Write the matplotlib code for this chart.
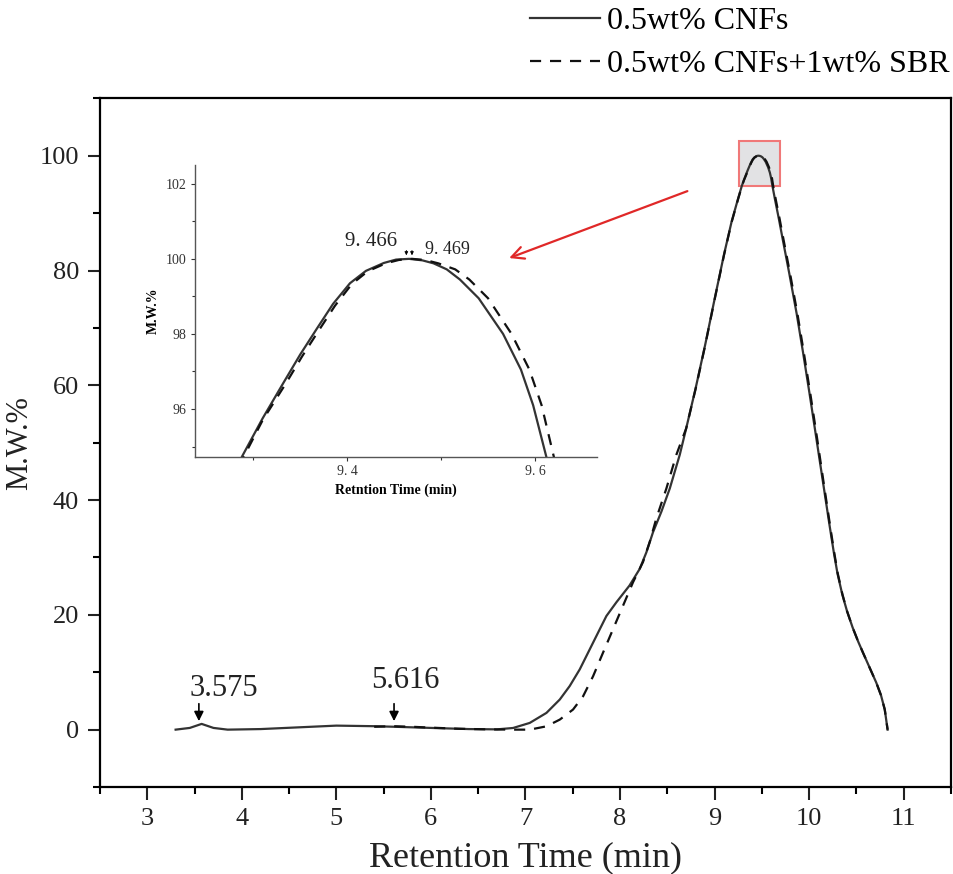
import matplotlib
matplotlib.use("Agg")
import matplotlib.pyplot as plt
from matplotlib.patches import Rectangle
from matplotlib.ticker import MultipleLocator

# retention time (min) / M.W.%
cnf_time = [3.30, 3.45, 3.575, 3.70, 3.85, 4.2, 4.6, 5.0, 5.4, 5.616, 6.0, 6.4, 6.7, 6.869,
            7.045, 7.222, 7.363, 7.468, 7.574, 7.68, 7.786, 7.856, 7.962, 8.10, 8.208, 8.279,
            8.349, 8.438, 8.526, 8.632, 8.70, 8.80, 8.90, 9.00, 9.10, 9.18, 9.25,
            9.288, 9.31, 9.332, 9.35, 9.368, 9.385, 9.403, 9.42, 9.439, 9.452,
            9.466, 9.48, 9.492, 9.506, 9.52, 9.54, 9.566, 9.585, 9.598, 9.612, 9.64, 9.68,
            9.72, 9.79, 9.868, 9.935, 10.005, 10.076, 10.146, 10.217, 10.26, 10.30, 10.35,
            10.40, 10.46, 10.52, 10.57, 10.64, 10.71, 10.76, 10.80, 10.83]
cnf_mw = [0.0, 0.3, 1.0, 0.3, 0.0, 0.1, 0.4, 0.7, 0.6, 0.5, 0.3, 0.1, 0.05, 0.29,
          1.17, 2.92, 5.25, 7.6, 10.5, 14.0, 17.5, 19.8, 22.2, 25.1, 28.0, 30.9,
          34.4, 38.0, 42.0, 47.9, 52.5, 59.5, 67.0, 75.0, 82.8, 88.5, 92.6,
          94.73, 95.75, 96.69, 97.45, 98.15, 98.80, 99.35, 99.68, 99.89, 99.98,
          100.0, 99.96, 99.88, 99.72, 99.45, 98.95, 98.0, 97.05, 96.1, 94.73, 92.3, 89.0,
          85.5, 79.5, 72.5, 65.8, 58.5, 50.8, 43.2, 35.5, 31.0, 27.2, 23.6,
          20.7, 17.8, 15.3, 13.4, 10.8, 8.2, 6.0, 3.5, 0.0]

sbr_time = [5.40, 5.6, 5.8, 6.0, 6.3, 6.6, 6.87, 7.045, 7.222, 7.363, 7.503, 7.609, 7.715,
            7.82, 7.926, 8.032, 8.138, 8.243, 8.314, 8.384, 8.49, 8.596, 8.70, 8.80, 8.90,
            9.00, 9.10, 9.18, 9.25, 9.29, 9.31, 9.335, 9.352, 9.37, 9.387, 9.405, 9.422,
            9.441, 9.455, 9.469, 9.483, 9.497, 9.515, 9.53, 9.55, 9.575, 9.594, 9.607,
            9.62, 9.648, 9.688, 9.728, 9.798, 9.876, 9.943, 10.013, 10.084, 10.152, 10.222,
            10.264, 10.303, 10.352, 10.40, 10.46, 10.52, 10.57, 10.64, 10.71, 10.76, 10.80,
            10.83]
sbr_mw = [0.5, 0.6, 0.5, 0.35, 0.15, 0.05, 0.0, 0.0, 0.58, 1.75, 3.5, 5.8, 9.3,
          13.4, 17.5, 21.6, 25.7, 29.2, 32.7, 36.8, 42.0, 47.9, 52.5, 59.4, 66.9,
          74.9, 82.7, 88.4, 92.5, 94.73, 95.7, 96.69, 97.4, 98.1, 98.75, 99.33, 99.67,
          99.88, 99.97, 100.0, 99.97, 99.88, 99.72, 99.45, 98.95, 98.0, 97.05, 96.1,
          94.73, 92.3, 89.0, 85.5, 79.5, 72.5, 65.8, 58.5, 50.8, 43.2, 35.5,
          31.0, 27.2, 23.6, 20.7, 17.8, 15.3, 13.4, 10.8, 8.2, 6.0, 3.5,
          0.0]

series_labels = ["0.5wt% CNFs", "0.5wt% CNFs+1wt% SBR"]
peak_labels = ["3.575", "5.616"]
peak_x = [3.546, 5.61]
zoom_labels = ["9. 466", "9. 469"]
zoom_peak_x = [9.463, 9.469]

plt.rcParams["font.family"] = ["Liberation Serif", "DejaVu Serif"]

line_color = "#333333"
fig = plt.figure(figsize=(9.54, 8.74), dpi=100)
ax = fig.add_axes([0.1048, 0.0995, 0.892, 0.788])

ax.plot(cnf_time, cnf_mw, color=line_color, lw=1.6, label=series_labels[0])
ax.plot(sbr_time, sbr_mw, color="#111111", lw=1.6, dashes=(5, 4), label=series_labels[1])

ax.set_xlim(2.5, 11.5)
ax.set_ylim(-10, 110)
ax.xaxis.set_major_locator(MultipleLocator(1))
ax.xaxis.set_minor_locator(MultipleLocator(0.5))
ax.yaxis.set_major_locator(MultipleLocator(20))
ax.yaxis.set_minor_locator(MultipleLocator(10))
ax.tick_params(which="major", direction="out", length=9, width=1.5, labelsize=19,
               colors="#222222", pad=6)
ax.tick_params(which="minor", direction="out", length=5, width=1.5)
for sp in ax.spines.values():
    sp.set_linewidth(1.6)
ax.set_xlabel("Retention Time (min)", fontsize=26, labelpad=8, color="#222222")
ax.set_ylabel("M.W.%", fontsize=22, labelpad=4, color="#222222")

# peak markers on the baseline
for lbl, px, tx, ty in zip(peak_labels, peak_x, [3.45, 5.37], [7.2, 8.6]):
    ax.annotate("", xy=(px, 1.0), xytext=(px, 5.0),
                arrowprops=dict(arrowstyle="-|>", color="k", lw=1.2, mutation_scale=14))
    ax.text(tx, ty, lbl, fontsize=22, ha="left", va="center", color="#222222")

# highlighted peak region and pointer to the inset
ax.add_patch(Rectangle((9.255, 94.7), 0.435, 7.9, facecolor="#e2e2e4",
                       edgecolor="#f07878", lw=1.5, zorder=0))
ax.annotate("", xy=(6.80, 82.0), xytext=(8.74, 94.0),
            arrowprops=dict(arrowstyle="->", color="#e02828", lw=1.6, mutation_scale=22))

ax.legend(loc="upper right", bbox_to_anchor=(0.995, 0.992), bbox_transform=fig.transFigure,
          frameon=False, fontsize=23, handlelength=2.2, handletextpad=0.2,
          labelspacing=0.42, borderpad=0.0, borderaxespad=0.0)

# inset zoom on the peak
ins = fig.add_axes([0.2044, 0.4771, 0.4214, 0.3341])
ins.plot(cnf_time, cnf_mw, color=line_color, lw=1.6)
ins.plot(sbr_time, sbr_mw, color="#111111", lw=1.6, dashes=(5, 4))
ins.set_xlim(9.238, 9.666)
ins.set_ylim(94.72, 102.5)
ins.set_xticks([9.4, 9.6], labels=["9. 4", "9. 6"])
ins.xaxis.set_minor_locator(MultipleLocator(0.1))
ins.yaxis.set_major_locator(MultipleLocator(2))
ins.yaxis.set_minor_locator(MultipleLocator(1))
ins.tick_params(which="both", direction="out", length=3, width=0.8, labelsize=10,
                colors="#333333", pad=3)
ins.tick_params(which="minor", length=2)
for side in ["top", "right"]:
    ins.spines[side].set_visible(False)
for side in ["left", "bottom"]:
    ins.spines[side].set_linewidth(1.0)
    ins.spines[side].set_color("#555555")
ins.set_xlabel("Retntion Time (min)", fontsize=10, fontweight="bold", labelpad=4)
ins.set_ylabel("M.W.%", fontsize=10, fontweight="bold", labelpad=4)
ins.patch.set_alpha(0)

ins.text(9.425, 100.45, zoom_labels[0], fontsize=15, ha="center", va="center", color="#222222")
ins.text(9.483, 100.25, zoom_labels[1], fontsize=13, ha="left", va="center", color="#222222")
for zx in zoom_peak_x:
    ins.annotate("", xy=(zx, 100.02), xytext=(zx, 100.3),
                 arrowprops=dict(arrowstyle="-|>", color="k", lw=0.6, mutation_scale=5))

fig.savefig("out.png", dpi=100)
